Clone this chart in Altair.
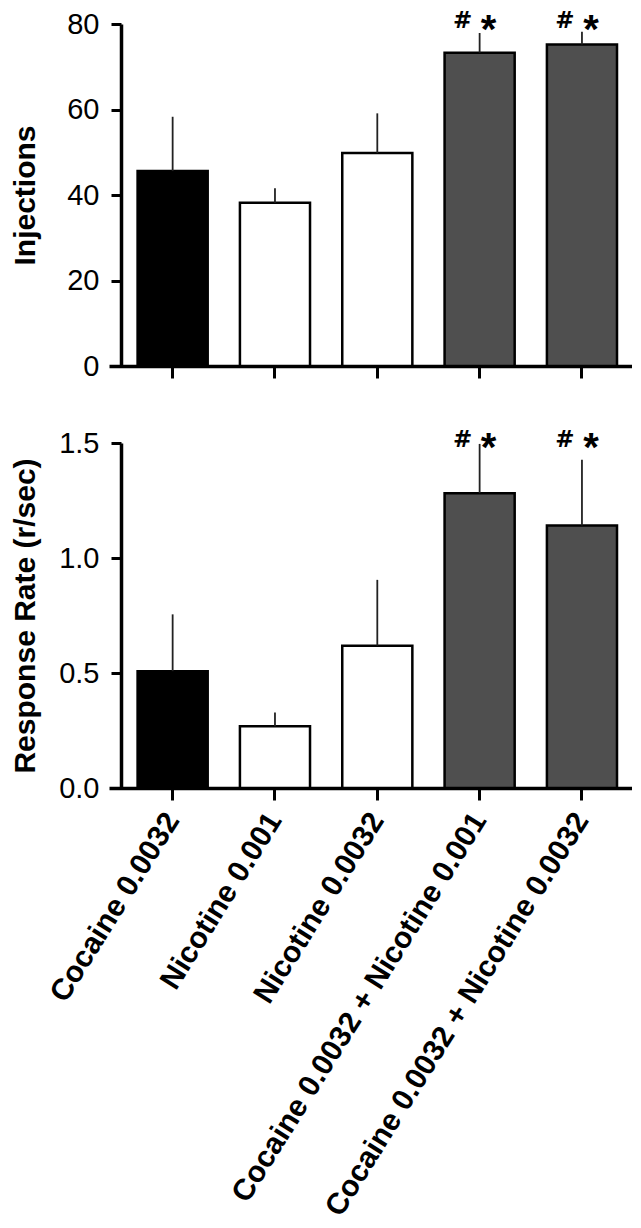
import altair as alt
import pandas as pd

groups = ["Cocaine 0.0032", "Nicotine 0.001", "Nicotine 0.0032",
          "Cocaine 0.0032 + Nicotine 0.001", "Cocaine 0.0032 + Nicotine 0.0032"]
fills = ["#000000", "#ffffff", "#ffffff", "#4f4f4f", "#4f4f4f"]

inj_mean = [45.6, 38.2, 49.8, 73.3, 75.2]
inj_sem = [12.7, 3.4, 9.3, 4.6, 3.0]
rate_mean = [0.508, 0.269, 0.619, 1.282, 1.141]
rate_sem = [0.247, 0.059, 0.286, 0.214, 0.286]

sig_groups = ["Cocaine 0.0032 + Nicotine 0.001", "Cocaine 0.0032 + Nicotine 0.0032"]
hash_inj = [79.06, 79.06]
star_inj = [75.65, 75.65]
hash_rate = [1.4826, 1.4826]
star_rate = [1.4196, 1.4196]

inj_ticks = [0, 20, 40, 60, 80]
rate_ticks = [0.0, 0.5, 1.0, 1.5]

FONT = "Liberation Sans"
W = 523


def panel(mean, sem, hash_y, star_y, ytitle, ymax, yticks, yfmt, show_labels, title_pad, h):
    df = pd.DataFrame({
        "group": groups,
        "mean": mean,
        "upper": [m + s for m, s in zip(mean, sem)],
    })
    sig = pd.DataFrame({"group": sig_groups, "hy": hash_y, "sy": star_y})

    xscale = alt.Scale(domain=groups, paddingInner=0.315, paddingOuter=0.213, align=0.656)
    xaxis = alt.Axis(
        title=None, labels=show_labels, labelAngle=-58, labelFontSize=30,
        labelFontWeight="bold", labelAlign="right", labelBaseline="middle",
        labelPadding=15, labelLimit=0, labelFont=FONT, labelColor="black",
        tickSize=12, tickWidth=3, tickColor="black", domainWidth=3.5,
        domainColor="black", bandPosition=0.5, grid=False, labelOverlap=False,
    )
    X = alt.X("group:N", scale=xscale, axis=xaxis, sort=groups)

    yscale = alt.Scale(domain=[0, ymax], nice=False, zero=True)
    yaxis = alt.Axis(
        title=ytitle, values=yticks, format=yfmt, offset=-12, grid=False,
        labelFontSize=29, labelFont=FONT, labelColor="black", labelPadding=12,
        tickSize=10, tickWidth=3, tickColor="black", domainWidth=3.5,
        domainColor="black", titleFont=FONT, titleFontSize=30,
        titleFontWeight="bold", titleColor="black", titlePadding=title_pad,
    )

    bars = alt.Chart(df).mark_bar(stroke="black", strokeWidth=2.5).encode(
        x=X,
        y=alt.Y("mean:Q", scale=yscale, axis=yaxis),
        fill=alt.Fill("group:N", scale=alt.Scale(domain=groups, range=fills), legend=None),
    )
    err = alt.Chart(df).mark_rule(color="#222222", strokeWidth=1.8).encode(
        x=X,
        y=alt.Y("mean:Q", scale=yscale, axis=yaxis),
        y2="upper:Q",
    )
    hash_t = alt.Chart(sig).mark_text(
        text="#", font="DejaVu Sans", fontSize=23, fontWeight="bold", color="black",
        baseline="alphabetic", dx=-17,
    ).encode(x=X, y=alt.Y("hy:Q", scale=yscale, axis=yaxis))
    star_t = alt.Chart(sig).mark_text(
        text="*", font=FONT, fontSize=40, fontWeight="bold", color="black",
        baseline="alphabetic", dx=9,
    ).encode(x=X, y=alt.Y("sy:Q", scale=yscale, axis=yaxis))

    return alt.layer(bars, err, hash_t, star_t).properties(width=W, height=h)


top = panel(inj_mean, inj_sem, hash_inj, star_inj, "Injections", 80,
            inj_ticks, "d", False, 26, 342)
bottom = panel(rate_mean, rate_sem, hash_rate, star_rate, "Response Rate (r/sec)", 1.5,
               rate_ticks, ".1f", True, 18, 345)

chart = alt.vconcat(top, bottom, spacing=48).configure_view(stroke=None).properties(
    padding={"left": 2, "top": 2, "right": 0, "bottom": 0}
)

chart.save("out.html", embed_options={"renderer": "svg", "actions": False})
